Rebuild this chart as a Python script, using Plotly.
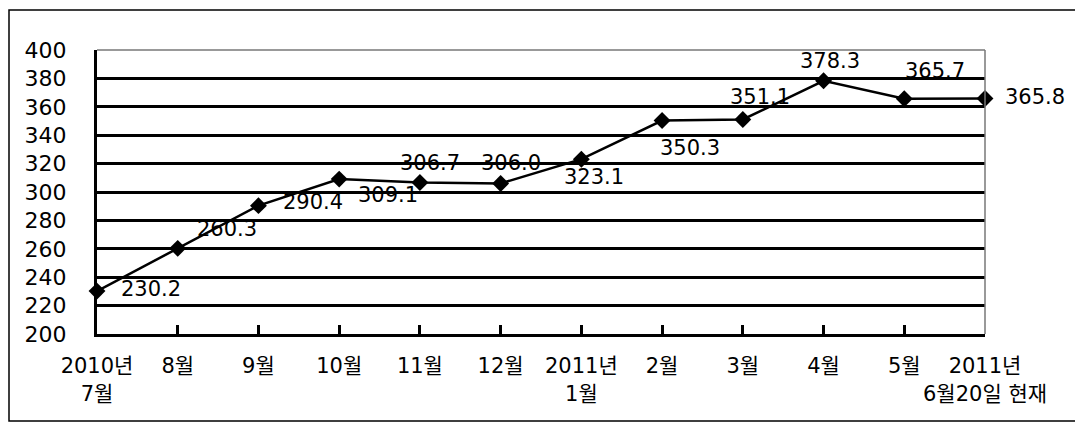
import plotly.graph_objects as go

categories = ["2010년<br>7월", "8월", "9월", "10월", "11월", "12월", "2011년<br>1월",
              "2월", "3월", "4월", "5월", "2011년<br>6월20일 현재"]
values = [230.2, 260.3, 290.4, 309.1, 306.7, 306.0, 323.1, 350.3, 351.1, 378.3, 365.7, 365.8]
value_labels = ["230.2", "260.3", "290.4", "309.1", "306.7", "306.0", "323.1",
                "350.3", "351.1", "378.3", "365.7", "365.8"]
y_ticks = [200, 220, 240, 260, 280, 300, 320, 340, 360, 380, 400]

# label pixel offsets (style)
label_dx = [22, 17, 23, 17, -22, -22, -19, -4, -15, -26, -1, 18]
label_dy = [2, 19, 4, -16, 19, 20, -18, -27, 22, 20, 28, 2]

FONT = "DejaVu Sans, Noto Sans CJK KR, sans-serif"
idx = list(range(len(categories)))

W, H = 1075, 420
L, R, T, B = 89, 98, 42, 94
PW, PH = W - L - R, H - T - B

fig = go.Figure()
fig.add_trace(go.Scatter(
    x=idx, y=values, mode="lines+markers",
    line=dict(color="black", width=2.5),
    marker=dict(symbol="diamond", size=13, color="black"),
    cliponaxis=False, showlegend=False, hoverinfo="skip",
))

annotations = []
for i, (v, t) in enumerate(zip(values, value_labels)):
    annotations.append(dict(
        x=i, y=v, xref="x", yref="y", text=t, showarrow=False,
        xanchor="left", yanchor="middle", xshift=label_dx[i], yshift=label_dy[i],
        font=dict(family=FONT, size=21, color="black"),
    ))

fig.update_layout(
    width=W, height=H,
    margin=dict(l=L, r=R, t=T, b=B, autoexpand=False),
    paper_bgcolor="white", plot_bgcolor="white",
    font=dict(family=FONT, size=21, color="black"),
    annotations=annotations,
    shapes=[
        dict(type="rect", xref="paper", yref="paper",
             x0=(1 - L) / PW, x1=(1072 - L) / PW,
             y0=(H - B - 413) / PH, y1=(H - B - 2) / PH,
             line=dict(color="black", width=1.5), layer="below"),
        dict(type="line", xref="paper", yref="paper", x0=0, x1=1, y0=1, y1=1,
             line=dict(color="#777777", width=1.5)),
        dict(type="line", xref="paper", yref="paper", x0=1, x1=1, y0=0, y1=1,
             line=dict(color="#777777", width=1.5)),
    ],
    xaxis=dict(
        range=[0, 11], tickmode="array", tickvals=idx, ticktext=categories,
        showgrid=False, zeroline=False, automargin=False,
        showline=True, linecolor="black", linewidth=3,
        ticks="inside", ticklen=9, tickwidth=3, tickcolor="black",
        ticklabelstandoff=11,
        tickfont=dict(family=FONT, size=21, color="black"),
    ),
    yaxis=dict(
        range=[200, 400], tickmode="array", tickvals=y_ticks,
        showgrid=True, gridcolor="black", gridwidth=3, zeroline=False, automargin=False,
        showline=True, linecolor="black", linewidth=3,
        ticks="", ticklabelstandoff=23,
        tickfont=dict(family=FONT, size=22, color="black"),
    ),
)

fig.write_html("out.html")
